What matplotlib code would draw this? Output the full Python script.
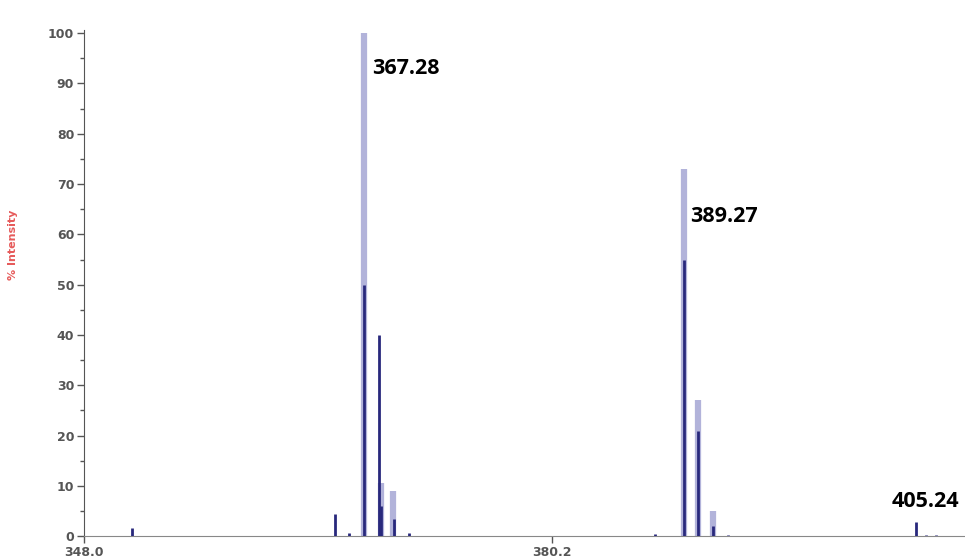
import matplotlib.pyplot as plt
from matplotlib.ticker import MultipleLocator, FixedLocator

# profile (light) peaks
light_mz = [367.28, 368.42, 369.27, 389.27, 390.24, 391.27]
light_int = [100, 10.5, 9, 73, 27, 5]

# centroid (dark) sticks
dark_mz = [351.33, 365.29, 366.25, 367.28, 368.31, 368.45, 369.30, 370.37,
           387.26, 389.27, 390.24, 391.27, 392.30, 405.24, 405.90, 406.60]
dark_int = [1.6, 4.5, 0.6, 50, 40, 6, 3.5, 0.6,
            0.4, 55, 21, 2, 0.3, 2.8, 0.3, 0.3]

labels = ['367.28', '389.27', '405.24']
label_x = [367.80, 389.70, 405.85]
label_y = [93, 63.5, 6.9]

fig = plt.figure(figsize=(9.65, 5.58), dpi=100)
ax = fig.add_axes([0.087, 0.039, 0.913, 0.907])

ax.vlines(light_mz, 0, light_int, colors='#b2b3da', linewidth=4.5, zorder=2)
ax.vlines(dark_mz, 0, dark_int, colors='#28287c', linewidth=2, zorder=3)

for t, x, y in zip(labels, label_x, label_y):
    ax.text(x, y, t, fontsize=15.5, fontweight='bold', family='Open Sans',
            ha='left' if t != '405.24' else 'center', va='center', color='black')

ax.set_xlim(348.0, 408.6)
ax.set_ylim(0, 100.6)

ax.spines['top'].set_visible(False)
ax.spines['right'].set_visible(False)
ax.spines['left'].set_color('#555555')
ax.spines['bottom'].set_color('#888888')

ax.xaxis.set_major_locator(FixedLocator([348.0, 380.2]))
ax.set_xticklabels(['348.0', '380.2'])
ax.yaxis.set_major_locator(MultipleLocator(10))
ax.yaxis.set_minor_locator(MultipleLocator(5))

ax.tick_params(axis='both', which='major', length=5, width=1, color='#555555',
               labelsize=9, labelcolor='#555555', pad=2)
ax.tick_params(axis='y', which='minor', length=3, width=1, color='#555555')
for lbl in ax.get_xticklabels() + ax.get_yticklabels():
    lbl.set_fontweight('bold')

ax.set_ylabel('% Intensity', color='#e65a5a', fontsize=8, fontweight='bold')
ax.yaxis.set_label_coords(-0.075, 0.575)

fig.savefig('out.png', dpi=100)
